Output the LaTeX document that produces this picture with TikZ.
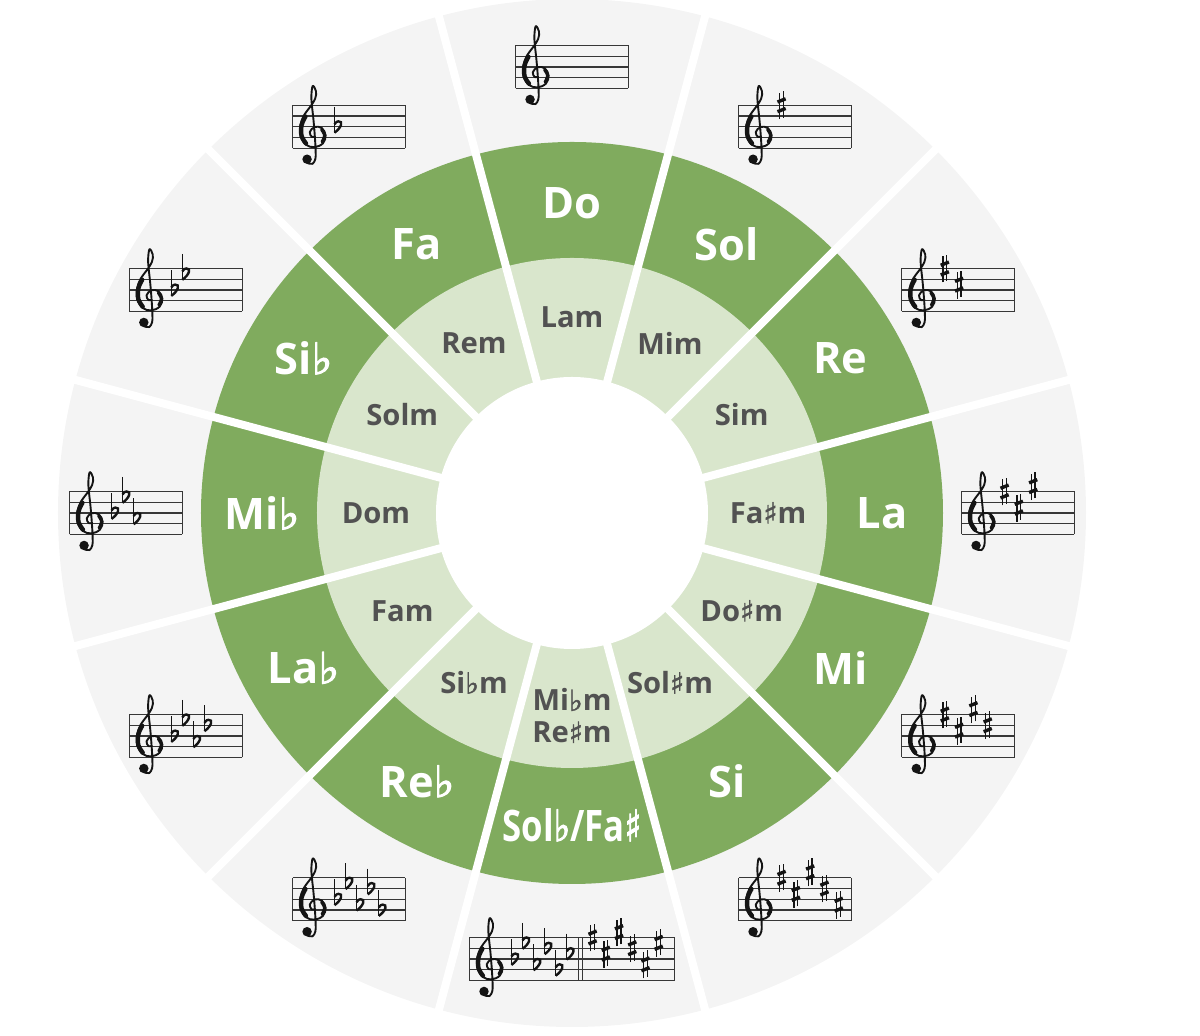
\documentclass[tikz,border=0pt]{standalone}
\usepackage{graphicx}
\usepackage{fontspec}
\setmainfont{Open Sans}
\newfontfamily\symfont{DejaVu Sans}[FakeBold=2.5]
\newfontfamily\symfontm{DejaVu Sans}[FakeBold=1.5]
\definecolor{darkg}{RGB}{128,171,94}
\definecolor{lightg}{RGB}{217,230,204}
\definecolor{ringgray}{RGB}{244,244,244}
\definecolor{mintext}{RGB}{82,82,82}
\definecolor{ink}{RGB}{20,20,20}
\newcommand\fl{{\symfont\bfseries\char"266D}}
\newcommand\sh{{\symfont\bfseries\char"266F}}
\newcommand\mfl{{\symfontm\bfseries\char"266D}}
\newcommand\msh{{\symfontm\bfseries\char"266F}}
\tikzset{
  major/.style={text=white, font=\fontsize{21.7}{24}\selectfont\bfseries, inner sep=0pt},
  minor/.style={text=mintext, font=\fontsize{14.6}{16}\selectfont\bfseries, inner sep=0pt, align=center},
  sepline/.style={white, line width=4pt},
  staffline/.style={draw=ink!85, line width=0.55pt},
  sharp/.pic={
    \draw[ink, line width=0.65pt] (-0.18,-1.3) -- (-0.18,1.15) (0.18,-1.15) -- (0.18,1.3);
    \draw[ink, line width=1.7pt] (-0.38,0.3) -- (0.38,0.6) (-0.38,-0.6) -- (0.38,-0.3);
  },
  flat/.pic={
    \draw[ink, line width=0.65pt] (-0.25,1.85) -- (-0.25,-0.55);
    \draw[ink, line width=1.2pt] (-0.25,-0.55) .. controls (0.4,-0.1) and (0.6,0.55) .. (0.12,0.5) .. controls (-0.05,0.48) .. (-0.25,0.22);
  },
  gclef/.pic={
    \fill[ink] (1.35,-1.02) circle (0.44);
    \draw[ink, line width=0.95pt, line cap=round, line join=round] plot[smooth, tension=0.6] coordinates {(1.4,-1.38) (1.85,-1.45) (2.12,-1.0) (2.15,-0.3) (2.08,1.0) (1.95,2.6) (1.8,4.0) (1.75,4.9) (1.88,5.8) (2.18,5.3) (2.1,4.6) (1.6,3.8) (1.05,3.05) (0.72,2.1) (0.76,1.1) (1.25,0.32) (2.05,0.1) (2.82,0.45) (3.08,1.2) (2.72,1.88) (2.05,1.98) (1.6,1.5) (1.8,1.05) (2.1,1.1)};
    \draw[ink, line width=2.2pt, line cap=round] plot[smooth, tension=0.6] coordinates {(1.2,2.95) (0.84,2.15) (0.84,1.15) (1.25,0.45)};
    \draw[ink, line width=1.6pt, line cap=round] plot[smooth, tension=0.6] coordinates {(2.75,0.6) (2.98,1.2) (2.7,1.75)};
  }
}
\newcommand\sharpkey[1]{\foreach \yy [count=\ii] in {4,2.5,4.5,3,1.5,3.5} {\ifnum\ii>#1\else \pic at ({4+1.33*(\ii-1)},\yy) {sharp};\fi}}
\newcommand\flatkey[1]{\foreach \yy [count=\ii] in {2,3.5,1.5,3,1,2.5} {\ifnum\ii>#1\else \pic at ({4.15+1.03*(\ii-1)},\yy) {flat};\fi}}
\newcommand\keystaff[3]{%
  \begin{scope}[shift={(#1:446)}, x=5.375pt, y=5.375pt, shift={(-#2/2,-2)}]
    \foreach \k in {0,...,4} \draw[staffline] (0,\k) -- (#2,\k);
    \draw[staffline] (0,0) -- (0,4) (#2,0) -- (#2,4);
    \pic at (0,0) {gclef};
    #3
  \end{scope}}
\begin{document}
\begin{tikzpicture}[x=0.5pt, y=0.5pt]
\useasboundingbox (-572,-523) rectangle (628,513);
% rings
\fill[ringgray] (0,0) circle (514);
\fill[darkg] (0,0) circle (371);
\fill[lightg] (0,0) circle (255);
\fill[white] (0,0) circle (136);
\foreach \a in {15,45,...,345} \draw[sepline] (0,0) -- (\a:540);
% major keys
\node[major] (maj90) at (90:310) {Do};
\node[major] (maj60) at (60:310) {Sol};
\node[major] (maj30) at (30:310) {Re};
\node[major] (maj0) at (0:310) {La};
\node[major] (majm30) at (-30:310) {Mi};
\node[major] (majm60) at (-60:310) {Si};
\node[major] (majm90) at (-90:312) {\scalebox{0.8}[1]{Sol\fl/Fa\sh}};
\node[major] (majm120) at (-120:310) {Re\fl};
\node[major] (majm150) at (-150:310) {La\fl};
\node[major] (maj180) at (180:310) {Mi\fl};
\node[major] (maj150) at (150:310) {Si\fl};
\node[major] (maj120) at (120:310) {Fa};
% minor keys
\node[minor] (min90) at (90:196) {Lam};
\node[minor] (min60) at (60:196) {Mim};
\node[minor] (min30) at (30:196) {Sim};
\node[minor] (min0) at (0:196) {Fa\msh m};
\node[minor] (minm30) at (-30:196) {Do\msh m};
\node[minor] (minm60) at (-60:196) {Sol\msh m};
\node[minor] (minm90) at (-90:203) {Mi\mfl m\\Re\msh m};
\node[minor] (minm120) at (-120:196) {Si\mfl m};
\node[minor] (minm150) at (-150:196) {Fam};
\node[minor] (min180) at (180:196) {Dom};
\node[minor] (min150) at (150:196) {Solm};
\node[minor] (min120) at (120:196) {Rem};
% staves
\keystaff{90}{10.5}{}
\keystaff{60}{10.5}{\sharpkey{1}}
\keystaff{30}{10.5}{\sharpkey{2}}
\keystaff{0}{10.5}{\sharpkey{3}}
\keystaff{-30}{10.5}{\sharpkey{4}}
\keystaff{-60}{10.5}{\sharpkey{5}}
\keystaff{-120}{10.5}{\flatkey{5}}
\keystaff{-150}{10.5}{\flatkey{4}}
\keystaff{180}{10.5}{\flatkey{3}}
\keystaff{150}{10.5}{\flatkey{2}}
\keystaff{120}{10.5}{\flatkey{1}}
\keystaff{-90}{19.07}{\flatkey{6}
  \draw[staffline] (10.15,0) -- (10.15,4) (10.55,0) -- (10.55,4);
  \foreach \yy [count=\ii] in {4,2.5,4.5,3,1.5,3.5} \pic at ({11.45+1.23*(\ii-1)},\yy) {sharp};}
\end{tikzpicture}
\end{document}
